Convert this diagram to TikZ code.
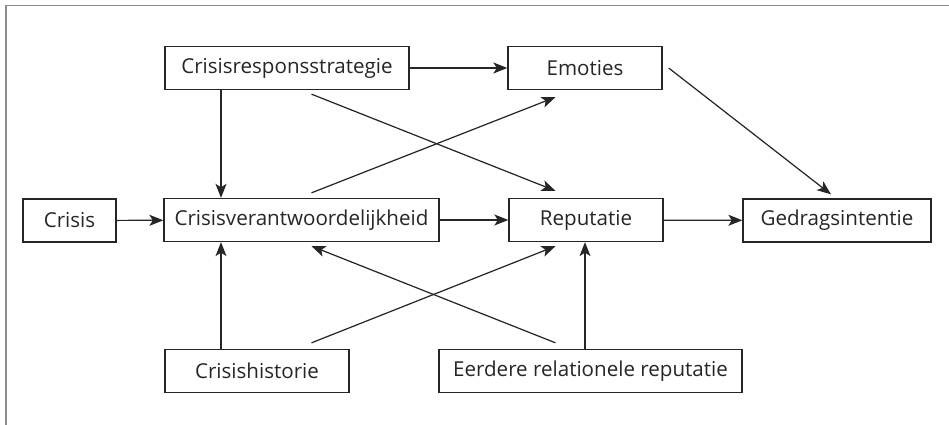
\documentclass[tikz,border=0pt]{standalone}
\usepackage{fontspec}
\setmainfont{Open Sans}
\usetikzlibrary{arrows.meta, positioning, calc}

\begin{document}
\begin{tikzpicture}[
        box/.style={rectangle, draw=black!85, line width=0.75pt, fill=white, minimum height=0.86cm, inner sep=0pt, align=center, text=black!85, font=\fontsize{11.7}{13}\selectfont},
        arrow/.style={-{Stealth[length=2.8mm, width=2.2mm, inset=0.7mm]}, line width=0.7pt, draw=black!85},
        frame/.style={draw=black!45, line width=1.1pt}
    ]
        % Canvas and partial frame
        \useasboundingbox (0,0) rectangle (18.98,-8.5);
        \draw[frame] (18.98,-0.11) -- (0.12,-0.11) -- (0.12,-8.5);

        % Column guides for the connectors
        \coordinate (colA) at (4.42,0);
        \coordinate (colB) at (11.70,0);
        \coordinate (colC) at (6.23,0);
        \coordinate (colD) at (11.11,0);
        \coordinate (colE) at (16.62,0);

        % ROW 1: Top
        \node[box, minimum width=4.88cm] (resp) at (5.74,-1.36) {Crisisresponsstrategie};
        \node[box, minimum width=3.08cm] (emo) at (11.70,-1.36) {Emoties};

        % ROW 2: Middle
        \node[box, minimum width=1.86cm] (crisis) at (1.39,-4.41) {Crisis};
        \node[box, minimum width=5.50cm] (verant) at (6.03,-4.40) {Crisisverantwoordelijkheid};
        \node[box, minimum width=3.08cm] (rep) at (11.72,-4.40) {Reputatie};
        \node[box, minimum width=3.76cm] (gedrag) at (16.74,-4.41) {Gedragsintentie};

        % ROW 3: Bottom
        \node[box, minimum width=3.68cm] (hist) at (5.14,-7.42) {Crisishistorie};
        \node[box, minimum width=6.06cm] (eerd) at (11.81,-7.42) {Eerdere relationele reputatie};

        % Horizontal paths
        \draw[arrow] (resp) -- (emo);
        \draw[arrow] (crisis) -- (verant);
        \draw[arrow] (verant) -- (rep);
        \draw[arrow] (rep) -- (gedrag);

        % Vertical paths
        \draw[arrow] (resp.south -| colA) -- (verant.north -| colA);
        \draw[arrow] (hist.north -| colA) -- (verant.south -| colA);
        \draw[arrow] (eerd.north -| colB) -- (rep.south -| colB);

        % Diagonal paths
        \draw[arrow] ([yshift=-0.08cm]resp.south -| colC) -- ([yshift=0.14cm]rep.north -| colD);
        \draw[arrow] ([yshift=0.10cm]verant.north -| colC) -- ([yshift=-0.14cm]emo.south -| colD);
        \draw[arrow] ([yshift=0.12cm]hist.north -| colC) -- ([yshift=-0.08cm]rep.south -| colD);
        \draw[arrow] ([yshift=0.12cm]eerd.north -| colD) -- ([yshift=-0.08cm]verant.south -| colC);
        \draw[arrow] ([xshift=0.12cm]emo.east) -- ([yshift=0.08cm]gedrag.north -| colE);
    \end{tikzpicture}
\end{document}
